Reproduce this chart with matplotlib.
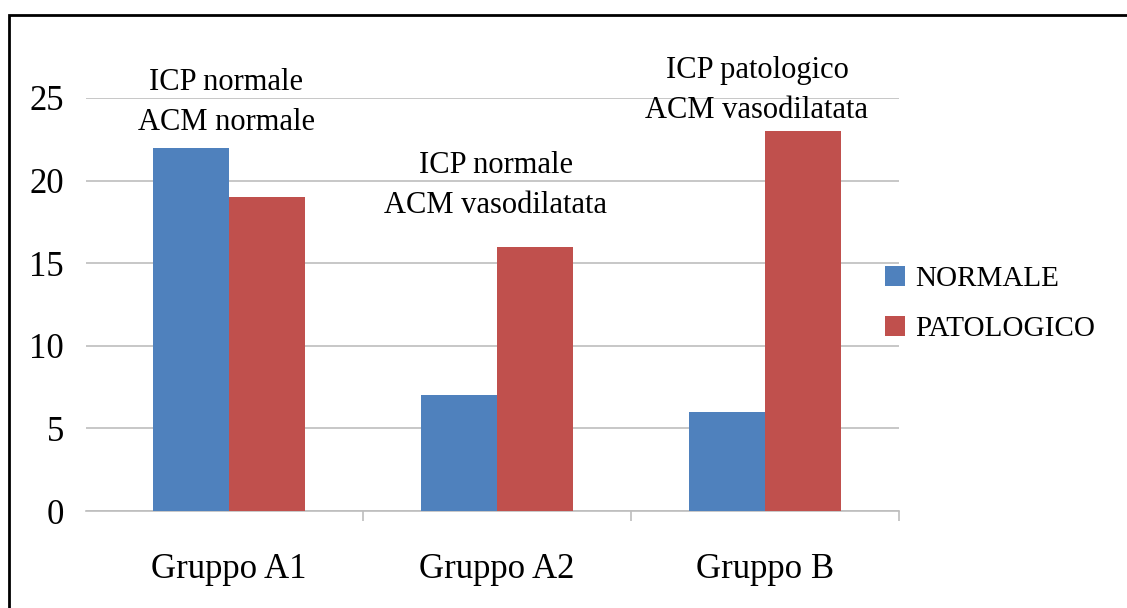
import numpy as np
import matplotlib.pyplot as plt
from matplotlib.patches import Rectangle

plt.rcParams['font.family'] = ['Liberation Serif', 'DejaVu Serif']

gruppi = ['Gruppo A1', 'Gruppo A2', 'Gruppo B']
normale = [22, 7, 6]
patologico = [19, 16, 23]
etichette = ['ICP normale\nACM normale',
             'ICP normale\nACM vasodilatata',
             'ICP patologico\nACM vasodilatata']

blu = '#4F81BD'
rosso = '#C0504D'
grigio = '#BEBEBE'

fig = plt.figure(figsize=(11.27, 6.08), dpi=100)
ax = fig.add_axes([86 / 1127, 97 / 608, 813 / 1127, 413 / 608])

x = np.arange(len(gruppi))
w = 0.284
ax.bar(x - w / 2, normale, w, color=blu, label='NORMALE', zorder=3)
ax.bar(x + w / 2, patologico, w, color=rosso, label='PATOLOGICO', zorder=3)

ax.set_xlim(-0.534, 2.5)
ax.set_ylim(0, 25)
ax.set_yticks(range(0, 26, 5))
ax.grid(axis='y', color=grigio, linewidth=1.2, zorder=0)
for s in ['top', 'right', 'left']:
    ax.spines[s].set_visible(False)
ax.spines['bottom'].set_color(grigio)
ax.spines['bottom'].set_linewidth(1.2)

ax.set_xticks(x)
ax.set_xticklabels(gruppi, fontsize=25)
ax.set_xticks([0.5, 1.5, 2.5], minor=True)
ax.tick_params(axis='x', which='major', length=0, pad=30)
ax.tick_params(axis='x', which='minor', length=7, color=grigio, width=1.2)
ax.tick_params(axis='y', length=0, pad=16, labelsize=25)

# etichette sopra i gruppi (baseline dell'ultima riga)
pos_x = [-0.011, 0.996, 1.97]
pos_y = [23.06, 18.04, 23.79]
for px, py, t in zip(pos_x, pos_y, etichette):
    ax.text(px, py, t, ha='center', va='baseline', fontsize=22,
            linespacing=1.5, multialignment='center', clip_on=False)

fig.legend(loc='center left', bbox_to_anchor=(0.785, 0.500), frameon=False,
           fontsize=21, handlelength=0.7, handleheight=0.7, handletextpad=0.35,
           labelspacing=0.8, borderpad=0, borderaxespad=0)

fig.patches.append(Rectangle((9 / 1127, -0.05), 1.1, 1 - 15 / 608 + 0.05,
                             transform=fig.transFigure, fill=False,
                             edgecolor='black', linewidth=2, zorder=10))

fig.savefig('out.png', dpi=100)
